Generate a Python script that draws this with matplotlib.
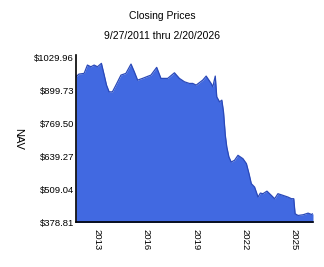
import matplotlib
matplotlib.use("Agg")
import matplotlib.pyplot as plt
import pandas as pd

dates = ["2011-09-27", "2011-12-01", "2012-03-25", "2012-06-06", "2012-08-22", "2012-11-03",
         "2013-01-15", "2013-04-13", "2013-06-14", "2013-08-04", "2013-10-01", "2013-12-13",
         "2014-03-01", "2014-06-21", "2014-10-08", "2015-01-30", "2015-04-13", "2015-06-25",
         "2015-10-12", "2016-04-16", "2016-08-22", "2016-11-24", "2017-04-23", "2017-09-20",
         "2018-01-08", "2018-05-01", "2018-08-18", "2018-10-30", "2019-01-15", "2019-06-10",
         "2019-08-25", "2019-12-13", "2020-01-19", "2020-03-14", "2020-04-16", "2020-06-17",
         "2020-08-07", "2020-09-13", "2020-10-23", "2020-11-25", "2021-01-11", "2021-03-03",
         "2021-05-15", "2021-07-31", "2021-11-18", "2022-02-03", "2022-04-02", "2022-05-23",
         "2022-08-04", "2022-10-20", "2022-12-10", "2023-02-06", "2023-05-05", "2023-08-11",
         "2023-10-23", "2024-01-04", "2024-04-27", "2024-08-14", "2024-10-30", "2024-12-20",
         "2025-01-19", "2025-03-26", "2025-07-17", "2025-11-03", "2026-01-19", "2026-02-20"]
nav = [952.2, 962.9, 965.6, 998.4, 991.7, 998.4,
       991.7, 1005.1, 958.9, 919.5, 893.0, 893.0,
       919.5, 958.9, 965.6, 1002.3, 971.9, 939.2,
       945.9, 958.9, 989.3, 945.9, 945.9, 968.0,
       945.9, 932.5, 926.0, 926.2, 919.5, 939.2,
       955.0, 926.0, 912.8, 955.0, 873.3, 853.6,
       860.3, 814.1, 722.2, 676.0, 636.6, 616.8,
       623.5, 643.2, 630.0, 610.5, 571.0, 531.6,
       518.2, 478.8, 494.5, 492.1, 502.2, 485.4,
       472.4, 492.1, 485.4, 478.8, 472.4, 472.4,
       413.2, 406.5, 409.3, 415.6, 410.5, 413.2]
ytick_vals = [378.81, 509.04, 639.27, 769.50, 899.73, 1029.96]
ytick_labels = ["$378.81", "$509.04", "$639.27", "$769.50", "$899.73", "$1029.96"]
xtick_years = [2013, 2016, 2019, 2022, 2025]
title1 = "Closing Prices"
title2 = "9/27/2011 thru 2/20/2026"
ylabel = "NAV"

plt.rcParams['font.family'] = ['Liberation Sans', 'DejaVu Sans']

x = pd.to_datetime(dates)
fig = plt.figure(figsize=(3.24, 2.67), dpi=100)
ax = fig.add_axes([0.2346, 0.1667, 0.966 - 0.2346, 0.794 - 0.1667])
ax.fill_between(x, ytick_vals[0], nav, color="#4169E1", linewidth=0)
ax.plot(x, nav, color="#2A49B8", linewidth=0.9)

ax.set_xlim(x[0], x[-1])
ax.set_ylim(ytick_vals[0], 1038)
ax.set_yticks(ytick_vals)
ax.set_yticklabels(ytick_labels, fontsize=6.8)
ax.set_xticks(pd.to_datetime([f"{y}-01-01" for y in xtick_years]))
ax.set_xticklabels([str(y) for y in xtick_years], fontsize=6.8, rotation=-90)
ax.tick_params(axis="y", length=0, pad=1.5)
ax.tick_params(axis="x", length=0, pad=5)
for s in ["top", "right"]:
    ax.spines[s].set_visible(False)
for s in ["left", "bottom"]:
    ax.spines[s].set_linewidth(1.2)
ax.set_ylabel(ylabel, rotation=-90, fontsize=8, va="center")
ax.yaxis.set_label_coords(-0.245, 0.5)

fig.text(0.5, 1 - 16 / 267, title1, ha="center", va="center", fontsize=7.5)
fig.text(0.5, 1 - 36 / 267, title2, ha="center", va="center", fontsize=7.5)

fig.savefig("out.png", dpi=100)
